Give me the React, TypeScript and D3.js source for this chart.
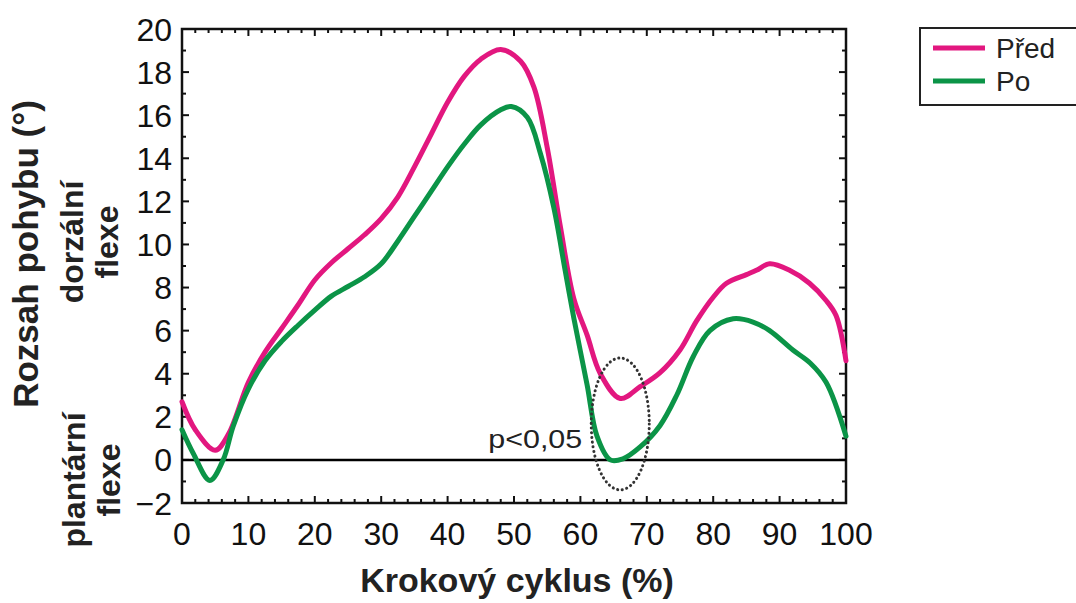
import React, { useRef, useEffect } from 'react';
import * as d3 from 'd3';

// Před (before)
const predX = [0, 2, 5, 7, 10, 12.5, 15, 17.5, 20, 22.5, 25, 27.5, 30, 32.5, 35, 37.5, 40, 42.5, 45, 48, 51, 53, 55, 57, 59, 61, 63, 66, 69, 72, 75, 77.5, 80, 82, 85, 86.5, 88.5, 91.5, 94.5, 97, 98.5, 100];
const predY = [2.7, 1.4, 0.45, 1.2, 3.6, 5.0, 6.1, 7.2, 8.35, 9.15, 9.8, 10.45, 11.2, 12.2, 13.6, 15.1, 16.6, 17.8, 18.6, 19.05, 18.5, 17.3, 14.5, 10.8, 7.5, 5.8, 4.0, 2.85, 3.4, 4.05, 5.1, 6.45, 7.55, 8.2, 8.6, 8.8, 9.1, 8.8, 8.2, 7.4, 6.7, 4.6];

// Po (after)
const poX = [0, 1.7, 4.2, 6.2, 7.7, 10, 12.5, 15, 17.5, 20, 22.5, 25, 27.5, 30, 32.5, 35, 37.5, 40, 42.5, 45, 48, 49.6, 52, 54, 56, 57.7, 59, 61, 62.5, 64.5, 66.4, 69, 72, 74.5, 77, 79.5, 83, 86, 88.5, 92, 94.6, 97, 100];
const poY = [1.4, 0.3, -0.95, 0.0, 1.55, 3.3, 4.6, 5.5, 6.25, 6.95, 7.6, 8.05, 8.5, 9.1, 10.15, 11.3, 12.45, 13.6, 14.65, 15.55, 16.25, 16.4, 15.9, 14.2, 11.7, 8.8, 6.6, 3.5, 1.1, 0.0, 0.05, 0.6, 1.6, 3.0, 4.8, 6.0, 6.55, 6.4, 6.0, 5.1, 4.5, 3.6, 1.1];

const xTicks = [0, 10, 20, 30, 40, 50, 60, 70, 80, 90, 100];
const yTicks = [-2, 0, 2, 4, 6, 8, 10, 12, 14, 16, 18, 20];
const seriesNames = ['Před', 'Po'];
const seriesColors = ['#e2177f', '#0b9447'];

// marked region (p<0,05), data units
const ellipseCenter = [66, 1.67];
const ellipseRadius = [4.37, 3.06];

function App() {
  const canvas = useRef(null);

  useEffect(() => {
    const margin = { top: 29, left: 182 };
    const width = 664;
    const height = 474;
    const font = 'Liberation Sans, Arial, sans-serif';

    d3.select(canvas.current).select('svg').remove();
    const root = d3.select(canvas.current)
      .append('svg')
      .attr('width', 1076)
      .attr('height', 603)
      .style('position', 'absolute')
      .style('left', 0)
      .style('top', 0)
      .style('font-family', font);

    const svg = root.append('g').attr('transform', `translate(${margin.left},${margin.top})`);

    const x = d3.scaleLinear().domain([0, 100]).range([0, width]);
    const y = d3.scaleLinear().domain([-2, 20]).range([height, 0]);

    // minor / major ticks, inward, on all four sides
    const tk = svg.append('g').attr('stroke', '#111').attr('stroke-width', 2);
    d3.range(0, 101, 2).forEach((v) => {
      const len = v % 10 === 0 ? 7 : 4;
      tk.append('line').attr('x1', x(v)).attr('x2', x(v)).attr('y1', height).attr('y2', height - len);
      tk.append('line').attr('x1', x(v)).attr('x2', x(v)).attr('y1', 0).attr('y2', len);
    });
    d3.range(-2, 21, 1).forEach((v) => {
      const len = v % 2 === 0 ? 7 : 4;
      tk.append('line').attr('x1', 0).attr('x2', len).attr('y1', y(v)).attr('y2', y(v));
      tk.append('line').attr('x1', width).attr('x2', width - len).attr('y1', y(v)).attr('y2', y(v));
    });

    // frame
    svg.append('rect')
      .attr('x', 0).attr('y', 0)
      .attr('width', width).attr('height', height)
      .attr('fill', 'none')
      .attr('stroke', '#111')
      .attr('stroke-width', 2.5);

    // zero line
    svg.append('line')
      .attr('x1', 0).attr('x2', width)
      .attr('y1', y(0)).attr('y2', y(0))
      .attr('stroke', '#000')
      .attr('stroke-width', 2.5);

    // tick labels
    svg.selectAll('.xl')
      .data(xTicks)
      .enter()
      .append('text')
      .attr('x', (d) => x(d))
      .attr('y', height + 42)
      .attr('text-anchor', 'middle')
      .attr('font-size', 32)
      .attr('fill', '#111')
      .text((d) => d);

    svg.selectAll('.yl')
      .data(yTicks)
      .enter()
      .append('text')
      .attr('x', -10)
      .attr('y', (d) => y(d))
      .attr('dy', '0.36em')
      .attr('text-anchor', 'end')
      .attr('font-size', 32)
      .attr('fill', '#111')
      .text((d) => (d < 0 ? '\u2212' + Math.abs(d) : d));

    // lines
    const line = d3.line()
      .x((d) => x(d[0]))
      .y((d) => y(d[1]))
      .curve(d3.curveCatmullRom.alpha(0.5));

    const pred = predX.map((v, i) => [v, predY[i]]);
    const po = poX.map((v, i) => [v, poY[i]]);

    [pred, po].forEach((data, i) => {
      svg.append('path')
        .datum(data)
        .attr('d', line)
        .attr('fill', 'none')
        .attr('stroke', seriesColors[i])
        .attr('stroke-width', 5)
        .attr('stroke-linejoin', 'round')
        .attr('stroke-linecap', 'round');
    });

    // dotted ellipse
    svg.append('ellipse')
      .attr('cx', x(ellipseCenter[0]))
      .attr('cy', y(ellipseCenter[1]))
      .attr('rx', x(ellipseRadius[0]) - x(0))
      .attr('ry', y(0) - y(ellipseRadius[1]))
      .attr('fill', 'none')
      .attr('stroke', '#333')
      .attr('stroke-width', 3)
      .attr('stroke-dasharray', '0.1 4.6')
      .attr('stroke-linecap', 'round');

    svg.append('text')
      .attr('x', x(ellipseCenter[0]) - 38)
      .attr('y', y(0) - 12)
      .attr('text-anchor', 'end')
      .attr('font-size', 26)
      .attr('textLength', 94)
      .attr('lengthAdjust', 'spacingAndGlyphs')
      .attr('fill', '#222')
      .text('p<0,05');

    // axis titles
    root.append('text')
      .attr('x', 517)
      .attr('y', 592)
      .attr('text-anchor', 'middle')
      .attr('font-size', 34)
      .attr('font-weight', 'bold')
      .attr('fill', '#222')
      .text('Krokový cyklus (%)');

    const rot = (cx, cy, lines, size) => {
      const g = root.append('g').attr('transform', `translate(${cx},${cy}) rotate(-90)`);
      lines.forEach((t, i) => {
        g.append('text')
          .attr('x', 0)
          .attr('y', i * 35)
          .attr('text-anchor', 'middle')
          .attr('font-size', size)
          .attr('font-weight', 'bold')
          .attr('fill', '#222')
          .text(t);
      });
    };
    rot(38, 254, ['Rozsah pohybu (°)'], 35);
    rot(83, 242, ['dorzální', 'flexe'], 32);
    rot(85, 480, ['plantární', 'flexe'], 32);

    // legend
    const lg = root.append('g');
    lg.append('rect')
      .attr('x', 920).attr('y', 28)
      .attr('width', 160).attr('height', 77)
      .attr('fill', 'none')
      .attr('stroke', '#222')
      .attr('stroke-width', 2);
    seriesNames.forEach((name, i) => {
      const ly = 48 + i * 33;
      lg.append('line')
        .attr('x1', 933).attr('x2', 985)
        .attr('y1', ly).attr('y2', ly)
        .attr('stroke', seriesColors[i])
        .attr('stroke-width', 5);
      lg.append('text')
        .attr('x', 996)
        .attr('y', ly + 10)
        .attr('font-size', 28)
        .attr('fill', '#222')
        .text(name);
    });
  }, []);

  return (
    <div ref={canvas}>
      {}
    </div>
  );
}

export default App;
